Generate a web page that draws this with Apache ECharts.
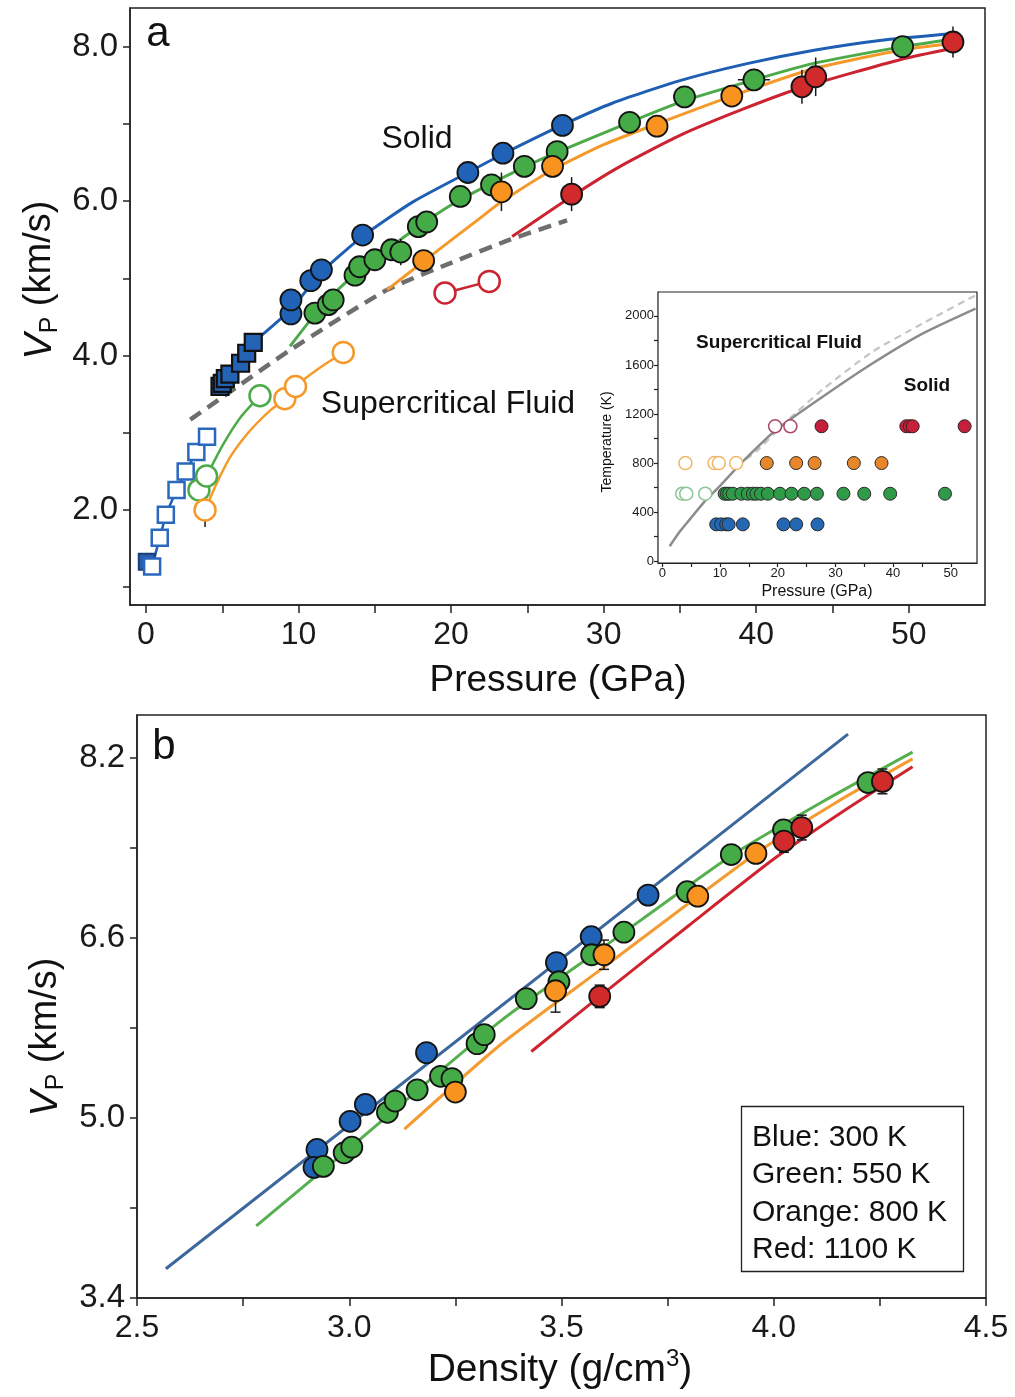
<!DOCTYPE html>
<html><head><meta charset="utf-8">
<script src="https://cdn.jsdelivr.net/npm/echarts@6/dist/echarts.min.js"></script>
<style>html,body{margin:0;padding:0;background:#fff}#c{width:1015px;height:1397px}</style>
</head><body><div id="c"></div>
<script>
// ---------------- Panel a : Vp vs Pressure ----------------
const blueSqOpenP = [0.4, 0.9, 1.3, 2.0, 2.6, 3.3, 4.0];
const blueSqOpenV = [1.27, 1.64, 1.94, 2.26, 2.50, 2.75, 2.95];
const blueSqLowP = [0.05];
const blueSqLowV = [1.33];
const blueSqP = [4.85, 5.0, 5.2, 5.5, 6.2, 6.6, 7.03];
const blueSqV = [3.60, 3.64, 3.70, 3.76, 3.90, 4.03, 4.17];
const blueP = [9.5, 9.5, 10.8, 11.5, 14.2, 21.1, 23.4, 27.3];
const blueV = [4.54, 4.72, 4.97, 5.11, 5.56, 6.37, 6.62, 6.98];
const greenP = [11.07, 11.95, 12.27, 13.7, 14.0, 15.0, 16.1, 16.7, 17.85, 18.4, 20.6, 22.65, 24.8, 26.95, 31.7, 35.3, 39.85, 49.6];
const greenV = [4.55, 4.66, 4.72, 5.04, 5.15, 5.24, 5.37, 5.34, 5.67, 5.73, 6.06, 6.21, 6.45, 6.64, 7.02, 7.35, 7.57, 8.0];
const greenOpenP = [3.47, 3.97, 7.47];
const greenOpenV = [2.26, 2.44, 3.48];
const orangeP = [18.2, 23.3, 26.65, 33.5, 38.4];
const orangeV = [5.23, 6.12, 6.45, 6.97, 7.36];
const orangeOpenP = [3.87, 9.1, 9.8, 12.93];
const orangeOpenV = [2.0, 3.44, 3.60, 4.04];
const redP = [27.9, 43.0, 43.9, 52.9];
const redV = [6.09, 7.48, 7.61, 8.06];
const redOpenP = [19.6, 22.5];
const redOpenV = [4.81, 4.96];
// connecting / fitted curves
const greenOpenLineP = [3.47, 3.97, 5.0, 6.2, 7.47];
const greenOpenLineV = [2.26, 2.44, 2.83, 3.2, 3.48];
const orangeOpenLineP = [3.87, 4.6, 5.5, 6.4, 7.25, 8.2, 9.1, 9.8, 11.3, 12.93];
const orangeOpenLineV = [2.0, 2.33, 2.68, 2.93, 3.12, 3.30, 3.44, 3.60, 3.83, 4.04];
const blueFitP = [7.03, 9.5, 11.5, 14.24, 17.5, 21.1, 23.4, 27.35, 30.6, 35.0, 39.4, 43.7, 48.1, 52.9];
const blueFitV = [4.17, 4.6, 5.08, 5.55, 5.99, 6.37, 6.61, 6.99, 7.27, 7.56, 7.78, 7.95, 8.08, 8.17];
const greenFitP = [9.44, 11.07, 13.0, 15.0, 17.5, 20.0, 22.65, 26.0, 31.7, 35.3, 39.85, 43.7, 49.6, 52.9];
const greenFitV = [4.12, 4.53, 4.93, 5.25, 5.62, 5.95, 6.23, 6.55, 7.02, 7.30, 7.57, 7.78, 8.0, 8.1];
const orangeFitP = [15.8, 18.2, 21.9, 23.3, 26.6, 30.0, 33.5, 38.4, 43.7, 49.6, 52.9];
const orangeFitV = [4.85, 5.22, 5.78, 5.99, 6.40, 6.73, 7.0, 7.36, 7.71, 7.96, 8.04];
const redFitP = [24.0, 27.9, 31.0, 35.0, 39.0, 43.0, 49.6, 52.9];
const redFitV = [5.54, 6.06, 6.44, 6.85, 7.18, 7.47, 7.84, 7.98];
const meltP = [2.9, 5.0, 9.44, 15.8, 20.0, 23.85, 27.6];
const meltV = [3.17, 3.46, 4.07, 4.85, 5.20, 5.50, 5.75];
// error bars [P, low, high]
const errAP = [3.87, 16.7, 20.6, 23.3, 26.65, 27.9, 43.0, 43.9, 52.9];
const errALo = [1.78, 5.17, 5.92, 5.87, 6.31, 5.87, 7.26, 7.36, 7.86];
const errAHi = [2.22, 5.51, 6.20, 6.37, 6.59, 6.31, 7.70, 7.86, 8.26];
const errAHV = [7.57];
const errAHLo = [38.8];
const errAHHi = [40.9];
const pTicks = [0, 5, 10, 15, 20, 25, 30, 35, 40, 45, 50];
const pLabels = [0, 10, 20, 30, 40, 50];
const vTicksA = [1, 2, 3, 4, 5, 6, 7, 8];
const vLabelsA = [2, 4, 6, 8];

// ---------------- Inset : P-T diagram ----------------
const T_BLUE = 300, T_GREEN = 550, T_ORANGE = 800, T_RED = 1100;
const insBlueP = [9.34, 10.2, 11.07, 11.5, 13.96, 21.0, 23.2, 26.9];
const insGreenP = [10.8, 11.2, 11.6, 12.2, 13.7, 14.8, 15.7, 16.3, 17.1, 18.3, 20.4, 22.4, 24.6, 26.8, 31.4, 35.0, 39.5, 49.0];
const insGreenOpenP = [3.46, 4.15, 7.44];
const insOrangeP = [18.1, 23.2, 26.4, 33.2, 38.0];
const insOrangeOpenP = [4.0, 9.05, 9.8, 12.8];
const insRedP = [27.6, 42.3, 42.9, 43.4, 52.4];
const insRedOpenP = [19.55, 22.2];
const insMeltP = [1.27, 3.0, 4.73, 7.2, 9.92, 13.96, 19.7, 27.8, 36.4, 45.1, 54.3];
const insMeltT = [122, 240, 339, 480, 610, 813, 1070, 1341, 1612, 1856, 2060];
const insMelt2P = [14.5, 16.3, 22.0, 27.8, 36.4, 45.1, 54.3];
const insMelt2T = [830, 895, 1160, 1400, 1707, 1938, 2168];
const insPTicks = [0, 5, 10, 15, 20, 25, 30, 35, 40, 45, 50];
const insPLabels = [0, 10, 20, 30, 40, 50];
const insTTicks = [0, 200, 400, 600, 800, 1000, 1200, 1400, 1600, 1800, 2000];
const insTLabels = [0, 400, 800, 1200, 1600, 2000];

// ---------------- Panel b : Vp vs Density ----------------
const rhoBlue = [2.924, 2.917, 3.002, 3.038, 3.182, 3.488, 3.570, 3.704];
const vpBlue = [4.72, 4.56, 4.97, 5.12, 5.58, 6.38, 6.61, 6.98];
const rhoGreen = [2.939, 2.988, 3.006, 3.090, 3.108, 3.160, 3.215, 3.242, 3.301, 3.318, 3.417, 3.494, 3.571, 3.647, 3.796, 3.900, 4.023, 4.222];
const vpGreen = [4.57, 4.69, 4.74, 5.05, 5.15, 5.25, 5.37, 5.35, 5.66, 5.74, 6.06, 6.21, 6.45, 6.65, 7.01, 7.34, 7.56, 7.98];
const rhoOrange = [3.25, 3.486, 3.600, 3.821, 3.958];
const vpOrange = [5.23, 6.13, 6.45, 6.97, 7.35];
const rhoRed = [3.590, 4.024, 4.066, 4.256];
const vpRed = [6.08, 7.46, 7.58, 7.99];
const fitBlueRho = [2.568, 4.175];
const fitBlueVp = [3.66, 8.41];
const fitGreenRho = [2.781, 3.0, 3.356, 3.6, 3.9, 4.12, 4.327];
const fitGreenVp = [4.04, 4.73, 5.86, 6.52, 7.33, 7.82, 8.25];
const fitOrangeRho = [3.130, 3.356, 3.6, 3.958, 4.15, 4.327];
const fitOrangeVp = [4.90, 5.65, 6.34, 7.35, 7.81, 8.19];
const fitRedRho = [3.429, 3.59, 3.8, 4.0, 4.17, 4.327];
const fitRedVp = [5.59, 6.08, 6.71, 7.30, 7.74, 8.12];
const errBRho = [3.486, 3.600, 3.590, 4.024, 4.066, 4.256];
const errBLo = [5.94, 6.32, 5.98, 7.36, 7.47, 7.88];
const errBHi = [6.32, 6.58, 6.18, 7.56, 7.69, 8.10];
const rhoTicks = [2.5, 2.75, 3.0, 3.25, 3.5, 3.75, 4.0, 4.25, 4.5];
const rhoLabels = [2.5, 3.0, 3.5, 4.0, 4.5];
const vTicksB = [3.4, 4.2, 5.0, 5.8, 6.6, 7.4, 8.2];
const vLabelsB = [3.4, 5.0, 6.6, 8.2];
const legendLines = ['Blue: 300 K', 'Green: 550 K', 'Orange: 800 K', 'Red: 1100 K'];

// ---------------- styling ----------------
const FONT = '"Liberation Sans", Arial, Helvetica, sans-serif';
const C = {
  blue: '#1f62b6', green: '#45ab47', orange: '#f7931e', red: '#d02a2a',
  blueL: '#1f5fb3', greenL: '#4daa49', orangeL: '#f59a2a', redL: '#cc2331',
  blueB: '#3c679c', greenB: '#56b04f', orangeB: '#f49a2e', redB: '#cf2430',
  gray: '#6e6e6e'
};
const zip = (a, b) => a.map((v, i) => [v, b[i]]);
const atT = (a, t) => a.map(v => [v, t]);
const fix1 = v => (Math.round(v * 10) / 10).toFixed(1);

function axis(gi, min, max, ticks, labels, fs, fmt, margin, tickLen, lw) {
  return {
    gridIndex: gi, type: 'value', min: min, max: max,
    axisLine: { show: true, onZero: false, lineStyle: { color: '#222', width: lw } },
    axisTick: { show: true, inside: false, length: tickLen, customValues: ticks, lineStyle: { color: '#222', width: lw } },
    axisLabel: { show: true, customValues: labels, formatter: fmt, fontSize: fs, color: '#1a1a1a', fontFamily: FONT, margin: margin },
    splitLine: { show: false }
  };
}

function lineS(xi, data, color, width, extra) {
  return Object.assign({
    type: 'line', xAxisIndex: xi, yAxisIndex: xi, data: data, showSymbol: false, symbol: 'none',
    smooth: false, lineStyle: { color: color, width: width, join: 'round' }, z: 3, silent: true
  }, extra || {});
}
function dotS(xi, data, fill, border, bw, size, symbol, z) {
  return {
    type: 'scatter', xAxisIndex: xi, yAxisIndex: xi, data: data, symbol: symbol || 'circle', symbolSize: size,
    itemStyle: { color: fill, borderColor: border, borderWidth: bw, opacity: 1 }, z: z || 5, silent: true
  };
}
function errS(xi, data, horizontal, cap, z) {
  return {
    type: 'custom', xAxisIndex: xi, yAxisIndex: xi, data: data, z: z || 4, silent: true,
    renderItem: function (params, api) {
      let p1, p2;
      if (!horizontal) { p1 = api.coord([api.value(0), api.value(1)]); p2 = api.coord([api.value(0), api.value(2)]); }
      else { p1 = api.coord([api.value(1), api.value(0)]); p2 = api.coord([api.value(2), api.value(0)]); }
      const st = { stroke: '#1a1a1a', lineWidth: 1.5 };
      const ch = [{ type: 'line', shape: { x1: p1[0], y1: p1[1], x2: p2[0], y2: p2[1] }, style: st }];
      if (cap) {
        ch.push({ type: 'line', shape: { x1: p1[0] - cap, y1: p1[1], x2: p1[0] + cap, y2: p1[1] }, style: st });
        ch.push({ type: 'line', shape: { x1: p2[0] - cap, y1: p2[1], x2: p2[0] + cap, y2: p2[1] }, style: st });
      }
      return { type: 'group', children: ch };
    }
  };
}

const series = [
  // panel a lines
  lineS(0, zip(blueSqOpenP, blueSqOpenV), C.blueL, 2.5),
  lineS(0, zip(blueSqP, blueSqV), C.blueL, 2.5),
  lineS(0, zip(blueFitP, blueFitV), C.blueL, 3, { smooth: 0.2 }),
  lineS(0, zip(greenOpenLineP, greenOpenLineV), C.greenL, 2.5, { smooth: 0.2 }),
  lineS(0, zip(greenFitP, greenFitV), C.greenL, 3, { smooth: 0.2 }),
  lineS(0, zip(orangeOpenLineP, orangeOpenLineV), C.orangeL, 2.5, { smooth: 0.2 }),
  lineS(0, zip(orangeFitP, orangeFitV), C.orangeL, 3, { smooth: 0.2 }),
  lineS(0, zip(redFitP, redFitV), C.redL, 3, { smooth: 0.2 }),
  lineS(0, zip(redOpenP, redOpenV), C.redL, 2.5),
  lineS(0, zip(meltP, meltV), C.gray, 4.5, { smooth: 0.2, lineStyle: { color: C.gray, width: 4.5, type: [13, 8], cap: 'butt' }, z: 2 }),
  errS(0, errAP.map((p, i) => [p, errALo[i], errAHi[i]]), false, 0),
  errS(0, errAHV.map((v, i) => [v, errAHLo[i], errAHHi[i]]), true, 0),
  // panel a markers
  dotS(0, zip(blueSqLowP, blueSqLowV), '#2a5fae', '#1a3f78', 2, 16, 'rect'),
  dotS(0, zip(blueSqOpenP, blueSqOpenV), '#fff', '#2a68be', 2.5, 16, 'rect'),
  dotS(0, zip(blueSqP, blueSqV), '#2462b4', '#111', 2.2, 17, 'rect'),
  dotS(0, zip(blueP, blueV), C.blue, '#141414', 1.8, 21),
  dotS(0, zip(greenOpenP, greenOpenV), '#fff', C.greenL, 2.5, 21),
  dotS(0, zip(orangeOpenP, orangeOpenV), '#fff', C.orangeL, 2.5, 21),
  dotS(0, zip(redOpenP, redOpenV), '#fff', C.redL, 2.5, 21),
  dotS(0, zip(greenP, greenV), C.green, '#141414', 1.8, 21),
  dotS(0, zip(orangeP, orangeV), C.orange, '#141414', 1.8, 21),
  dotS(0, zip(redP, redV), C.red, '#141414', 1.8, 21),
  // inset
  lineS(1, zip(insMeltP, insMeltT), '#8c8c8c', 2.5, { smooth: 0.2 }),
  lineS(1, zip(insMelt2P, insMelt2T), '#c4c4c4', 2.2, { smooth: 0.2, lineStyle: { color: '#c4c4c4', width: 2.2, type: [7, 5] }, z: 2 }),
  dotS(1, atT(insBlueP, T_BLUE), '#2467b2', '#2b2b2b', 1, 13),
  dotS(1, atT(insGreenOpenP, T_GREEN), '#fff', '#8cc597', 1.5, 13),
  dotS(1, atT(insGreenP, T_GREEN), '#2f9a48', '#2b2b2b', 1, 13),
  dotS(1, atT(insOrangeOpenP, T_ORANGE), '#fff', '#f0b566', 1.5, 13),
  dotS(1, atT(insOrangeP, T_ORANGE), '#e8862a', '#2b2b2b', 1, 13),
  dotS(1, atT(insRedOpenP, T_RED), '#fff', '#a9476d', 1.5, 13),
  dotS(1, atT(insRedP, T_RED), '#c41f3b', '#3a2020', 1, 13),
  // panel b
  lineS(2, zip(fitBlueRho, fitBlueVp), C.blueB, 3),
  lineS(2, zip(fitGreenRho, fitGreenVp), C.greenB, 3, { smooth: 0.2 }),
  lineS(2, zip(fitOrangeRho, fitOrangeVp), C.orangeB, 3, { smooth: 0.2 }),
  lineS(2, zip(fitRedRho, fitRedVp), C.redB, 3, { smooth: 0.2 }),
  errS(2, errBRho.map((r, i) => [r, errBLo[i], errBHi[i]]), false, 5, 4),
  dotS(2, zip(rhoBlue, vpBlue), C.blue, '#141414', 1.8, 21),
  dotS(2, zip(rhoGreen, vpGreen), C.green, '#141414', 1.8, 21),
  dotS(2, zip(rhoOrange, vpOrange), C.orange, '#141414', 1.8, 21),
  dotS(2, zip(rhoRed, vpRed), C.red, '#141414', 1.8, 21)
];

const textEl = (x, y, txt, fs, extra) => ({
  type: 'text', x: x, y: y, z: 100,
  style: Object.assign({ text: txt, fontSize: fs, fontFamily: FONT, fill: '#111', textAlign: 'center', textVerticalAlign: 'middle' }, extra || {})
});
const vpTitle = (x, y) => ({
  type: 'text', x: x, y: y, rotation: Math.PI / 2, z: 100,
  style: {
    text: '{v|V}{s|P}{n| (km/s)}', textAlign: 'center', textVerticalAlign: 'middle', fill: '#111',
    rich: {
      v: { fontSize: 39, fontStyle: 'italic', fontFamily: FONT, lineHeight: 46, fill: '#111' },
      s: { fontSize: 25, fontFamily: FONT, lineHeight: 46, verticalAlign: 'bottom', fill: '#111' },
      n: { fontSize: 38, fontFamily: FONT, lineHeight: 46, fill: '#111' }
    }
  }
});

const graphic = [
  textEl(158, 34, 'a', 42),
  textEl(164, 747, 'b', 42),
  textEl(417, 139, 'Solid', 32),
  textEl(448, 404, 'Supercritical Fluid', 32),
  textEl(779, 343, 'Supercritical Fluid', 19, { fontWeight: 'bold' }),
  textEl(927, 386, 'Solid', 19, { fontWeight: 'bold' }),
  textEl(558, 681, 'Pressure (GPa)', 37),
  textEl(817, 592, 'Pressure (GPa)', 16),
  { type: 'text', x: 607, y: 442, rotation: Math.PI / 2, z: 100,
    style: { text: 'Temperature (K)', fontSize: 14, fontFamily: FONT, fill: '#111', textAlign: 'center', textVerticalAlign: 'middle' } },
  vpTitle(40, 280),
  vpTitle(46, 1037),
  { type: 'text', x: 560, y: 1370, z: 100,
    style: { text: '{n|Density (g/cm}{s|3}{n|)}', textAlign: 'center', textVerticalAlign: 'middle', fill: '#111',
      rich: { n: { fontSize: 39, fontFamily: FONT, lineHeight: 46, fill: '#111' },
              s: { fontSize: 24, fontFamily: FONT, lineHeight: 46, verticalAlign: 'top', fill: '#111' } } } },
  { type: 'rect', z: 90, shape: { x: 741.5, y: 1106.5, width: 222, height: 165 },
    style: { fill: '#fff', stroke: '#222', lineWidth: 1.3 } }
].concat(legendLines.map((t, i) => textEl(752, 1138 + i * 37.2, t, 30, { textAlign: 'left' })));

const option = {
  animation: false,
  backgroundColor: '#fff',
  grid: [
    { left: 130, top: 8, width: 855, height: 597, show: true, borderColor: '#222', borderWidth: 1.5, backgroundColor: 'transparent', containLabel: false },
    { left: 658, top: 292, width: 319, height: 271, show: true, borderColor: '#222', borderWidth: 1.2, backgroundColor: '#fff', containLabel: false, z: 1 },
    { left: 137, top: 715, width: 849, height: 583, show: true, borderColor: '#222', borderWidth: 1.5, backgroundColor: 'transparent', containLabel: false }
  ],
  xAxis: [
    axis(0, -1.05, 55, pTicks, pLabels, 32, v => String(v), 14, 8, 1.5),
    axis(1, -0.75, 54.55, insPTicks, insPLabels, 13, v => String(v), 4, 4, 1.2),
    axis(2, 2.5, 4.5, rhoTicks, rhoLabels, 32, fix1, 14, 8, 1.5)
  ],
  yAxis: [
    axis(0, 0.77, 8.5, vTicksA, vLabelsA, 33, fix1, 12, 7, 1.5),
    axis(1, -15, 2195, insTTicks, insTLabels, 13, v => String(v), 4, 4, 1.2),
    axis(2, 3.4, 8.58, vTicksB, vLabelsB, 33, fix1, 12, 7, 1.5)
  ],
  series: series,
  graphic: graphic
};
const chart = echarts.init(document.getElementById('c'), null, { renderer: 'canvas' });
chart.setOption(option);
</script>
</body></html>
